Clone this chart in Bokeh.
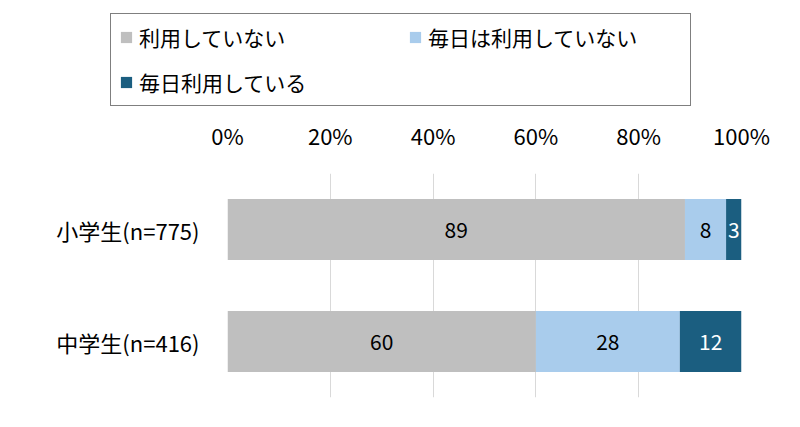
from bokeh.plotting import figure
from bokeh.layouts import column, row
from bokeh.models import (ColumnDataSource, FactorRange, Range1d, FixedTicker,
                          PrintfTickFormatter, LabelSet, Legend, LegendItem)
from bokeh.core.properties import value
from bokeh.embed import file_html
from bokeh.resources import INLINE

# ---- data ----
groups = ["中学生(n=416)", "小学生(n=775)"]          # bottom -> top
series = ["利用していない", "毎日は利用していない", "毎日利用している"]
not_used = [60, 89]
not_daily = [28, 8]
daily = [12, 3]
colors = ["#BFBFBF", "#A9CCEC", "#1B5E80"]
label_colors = ["#000000", "#000000", "#FFFFFF"]
ticks = [0, 20, 40, 60, 80, 100]

FONT = "Noto Sans CJK JP"
W = 784
LEG_H = 110

# ---------------- legend figure ----------------
pl = figure(width=W, height=LEG_H, output_backend="svg", toolbar_location=None,
            x_axis_type=None, y_axis_type=None,
            x_range=Range1d(0, 1), y_range=Range1d(0, 1),
            min_border_left=0, min_border_right=0,
            min_border_top=0, min_border_bottom=0)
pl.outline_line_color = None
pl.xgrid.grid_line_color = None
pl.ygrid.grid_line_color = None
leg_renderers = [pl.hbar(y=[0.5], left=[0], right=[0], height=0.01, color=c,
                         line_color=None) for c in colors]
items = [LegendItem(label=series[i], renderers=[leg_renderers[i]]) for i in range(3)]
leg = Legend(items=items, ncols=2, orientation="horizontal",
             location=(110, 4),
             padding=8, spacing=15, margin=0,
             glyph_width=14, glyph_height=14,
             label_height=25, label_width=254, label_standoff=6,
             label_text_font=FONT, label_text_font_size="21px",
             label_text_color="#000000",
             border_line_color="#000000", border_line_width=1.5,
             background_fill_color="white", background_fill_alpha=1.0)
pl.add_layout(leg, "center")

# ---------------- main chart ----------------
keys = ["s0", "s1", "s2"]
src = ColumnDataSource(dict(cat=groups, s0=not_used, s1=not_daily, s2=daily))

p = figure(width=W, height=411 - LEG_H, output_backend="svg", toolbar_location=None,
           y_range=FactorRange(*groups), x_range=Range1d(0, 100),
           x_axis_location="above",
           min_border_left=227, min_border_right=43,
           min_border_top=173 - LEG_H, min_border_bottom=14)
p.outline_line_color = None
p.background_fill_color = "white"

renderers = p.hbar_stack(keys, y="cat", height=0.545, color=colors,
                         source=src, line_color=None)

# value labels inside segments
vals = [not_used, not_daily, daily]
lx, ly, lt, lc = [], [], [], []
for si, v in enumerate(vals):
    for gi, g in enumerate(groups):
        start = sum(vals[k][gi] for k in range(si))
        lx.append(start + v[gi] / 2)
        ly.append(g)
        lt.append(str(v[gi]))
        lc.append(label_colors[si])
lsrc = ColumnDataSource(dict(x=lx, y=ly, t=lt, c=lc))
p.add_layout(LabelSet(x="x", y="y", text="t", source=lsrc, text_color="c",
                      text_align="center", text_baseline="middle",
                      text_font=value(FONT), text_font_size=value("21px")))

# axes
xa = p.xaxis[0]
xa.ticker = FixedTicker(ticks=ticks)
xa.formatter = PrintfTickFormatter(format="%d%%")
xa.axis_line_color = None
xa.major_tick_line_color = None
xa.minor_tick_line_color = None
xa.major_label_text_font = FONT
xa.major_label_text_font_size = "22px"
xa.major_label_text_color = "#000000"
xa.major_label_standoff = 17

ya = p.yaxis[0]
ya.axis_line_color = None
ya.major_tick_line_color = None
ya.minor_tick_line_color = None
ya.major_label_text_font = FONT
ya.major_label_text_font_size = "22px"
ya.major_label_text_color = "#000000"
ya.major_label_standoff = 22

p.xgrid.grid_line_color = "#D9D9D9"
p.xgrid.ticker = FixedTicker(ticks=ticks)
p.ygrid.grid_line_color = None

layout = column(row(pl), p, spacing=0)
open("out.html", "w").write(file_html(layout, INLINE))
